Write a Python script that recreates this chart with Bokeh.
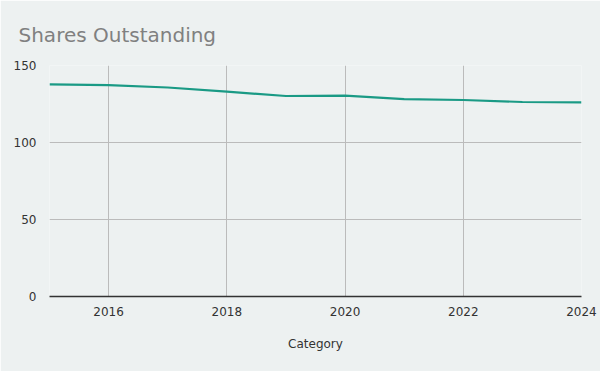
from bokeh.plotting import figure
from bokeh.models import Range1d, FixedTicker, Title
from bokeh.embed import file_html
from bokeh.resources import INLINE

years = [2015, 2016, 2017, 2018, 2019, 2020, 2021, 2022, 2023, 2024]
shares = [137.7, 137.3, 135.7, 133.0, 130.2, 130.5, 128.2, 127.6, 126.3, 126.1]
x_ticks = [2016, 2018, 2020, 2022, 2024]
y_ticks = [0, 50, 100, 150]

BG = "#edf1f1"

p = figure(width=600, height=371, output_backend="svg", toolbar_location=None,
           x_range=Range1d(2015, 2024), y_range=Range1d(0, 150),
           background_fill_color=BG, border_fill_color=BG, outline_line_color=None,
           min_border_left=49, min_border_right=19, min_border_top=65, min_border_bottom=75)

p.title = Title(text="Shares Outstanding", align="left", offset=-31, standoff=37,
                text_font="DejaVu Sans", text_font_size="20px", text_font_style="normal",
                text_color="#808080")

p.line(years, shares, line_color="#1a9a85", line_width=2.2)

p.xaxis.ticker = FixedTicker(ticks=x_ticks)
p.yaxis.ticker = FixedTicker(ticks=y_ticks)
p.xaxis.axis_label = "Category"
p.xaxis.axis_label_text_font = "DejaVu Sans"
p.xaxis.axis_label_text_font_size = "12px"
p.xaxis.axis_label_text_font_style = "normal"
p.xaxis.axis_label_text_color = "#333333"
p.xaxis.axis_label_standoff = 18
for ax in (p.xaxis, p.yaxis):
    ax.major_label_text_font = "DejaVu Sans"
    ax.major_label_text_font_size = "12px"
    ax.major_label_text_color = "#333333"
    ax.major_tick_line_color = None
    ax.minor_tick_line_color = None
p.xaxis.axis_line_color = "#333333"
p.xaxis.axis_line_width = 1.5
p.yaxis.axis_line_color = None
p.xaxis.major_label_standoff = 4
p.yaxis.major_label_standoff = 7

p.xgrid.grid_line_color = "#bbbbbb"
p.ygrid.grid_line_color = "#bbbbbb"

open("out.html", "w").write(file_html(p, INLINE))
